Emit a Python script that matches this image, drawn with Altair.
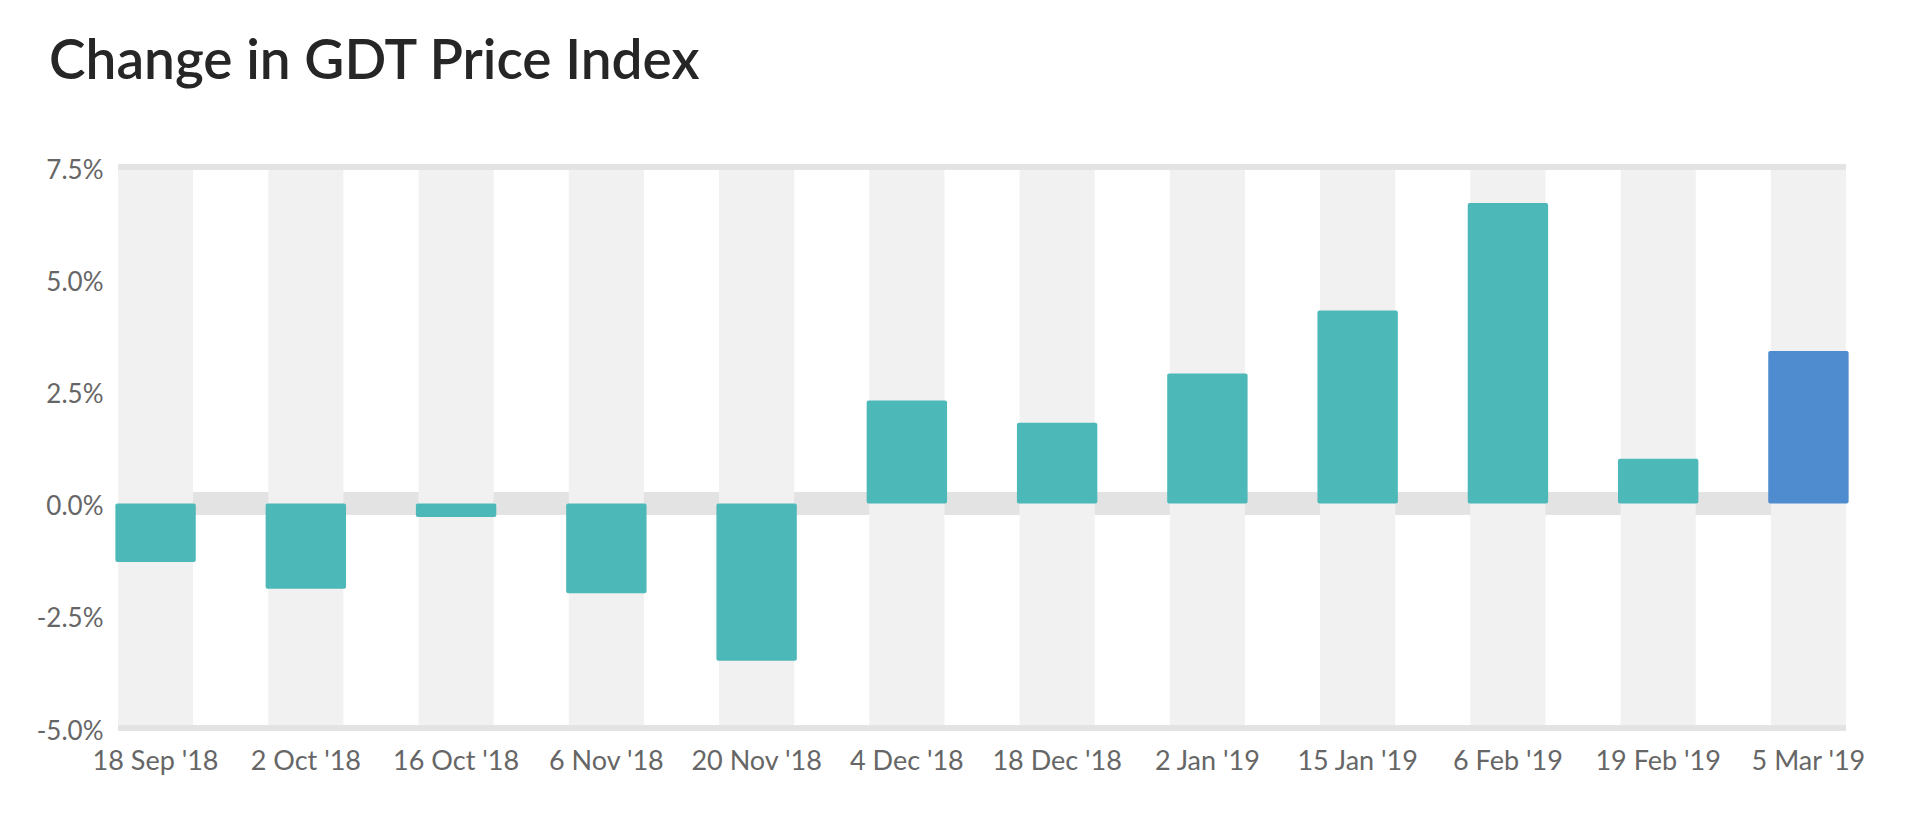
import altair as alt
import pandas as pd

dates = ["18 Sep '18", "2 Oct '18", "16 Oct '18", "6 Nov '18", "20 Nov '18",
         "4 Dec '18", "18 Dec '18", "2 Jan '19", "15 Jan '19", "6 Feb '19",
         "19 Feb '19", "5 Mar '19"]
changes = [-1.3, -1.9, -0.3, -2.0, -3.5, 2.3, 1.8, 2.9, 4.3, 6.7, 1.0, 3.4]
y_ticks = [-5.0, -2.5, 0.0, 2.5, 5.0, 7.5]
y_min, y_max = -5.0, 7.5
latest = "5 Mar '19"
title_text = "Change in GDT Price Index"

df = pd.DataFrame({"date": dates, "change": changes})

FONT = "Lato"
TEAL = "#4db8b8"
BLUE = "#4f8bcf"
COL_GREY = "#f1f1f1"
BAND_GREY = "#e3e3e3"

x_scale = alt.Scale(paddingInner=0.5, paddingOuter=0)
y_scale = alt.Scale(domain=[y_min, y_max], nice=False, zero=False)

x_axis = alt.Axis(title=None, labelAngle=0, ticks=False, domain=False,
                  labelFont=FONT, labelFontSize=27, labelColor="#666666",
                  labelPadding=20, grid=False)
y_axis = alt.Axis(title=None, values=y_ticks, ticks=False, domain=False,
                  grid=False, labelFont=FONT, labelFontSize=26,
                  labelColor="#666666", labelPadding=15, labelOffset=3,
                  labelExpr="(datum.value < 0 ? '-' : '') + format(abs(datum.value), '.1f') + '%'")

base = alt.Chart(df)

zero_band = base.mark_rule(color=BAND_GREY, strokeWidth=22).encode(
    y=alt.Y(datum=0, scale=y_scale, axis=y_axis)
)

columns = base.mark_bar(color=COL_GREY).encode(
    x=alt.X("date:N", sort=dates, scale=x_scale, axis=x_axis),
    y=alt.Y(datum=y_max, scale=y_scale, axis=y_axis),
    y2=alt.Y2(datum=y_min),
)

top_rule = base.mark_rule(color=BAND_GREY, strokeWidth=5).encode(
    y=alt.Y(datum=y_max, scale=y_scale, axis=y_axis)
)
bottom_rule = base.mark_rule(color=BAND_GREY, strokeWidth=5).encode(
    y=alt.Y(datum=y_min, scale=y_scale, axis=y_axis)
)

bars = base.mark_bar(width=alt.RelativeBandSize(1.07), cornerRadius=2).encode(
    x=alt.X("date:N", sort=dates, scale=x_scale, axis=x_axis),
    y=alt.Y("change:Q", scale=y_scale, axis=y_axis),
    y2=alt.Y2(datum=0),
    color=alt.condition(alt.datum.date == latest, alt.value(BLUE), alt.value(TEAL)),
)

chart = alt.layer(zero_band, columns, top_rule, bottom_rule, bars).properties(
    width=1728,
    height=561,
    title=alt.TitleParams(title_text, anchor="start", frame="group", font=FONT,
                          fontSize=55, fontWeight=600, color="#262626",
                          dx=-69, offset=66),
    autosize=alt.AutoSizeParams(type="none"),
    padding={"left": 110, "top": 159, "right": 50, "bottom": 80},
).configure_view(stroke=None)

chart.save("out.html", embed_options={"renderer": "svg", "actions": False})
